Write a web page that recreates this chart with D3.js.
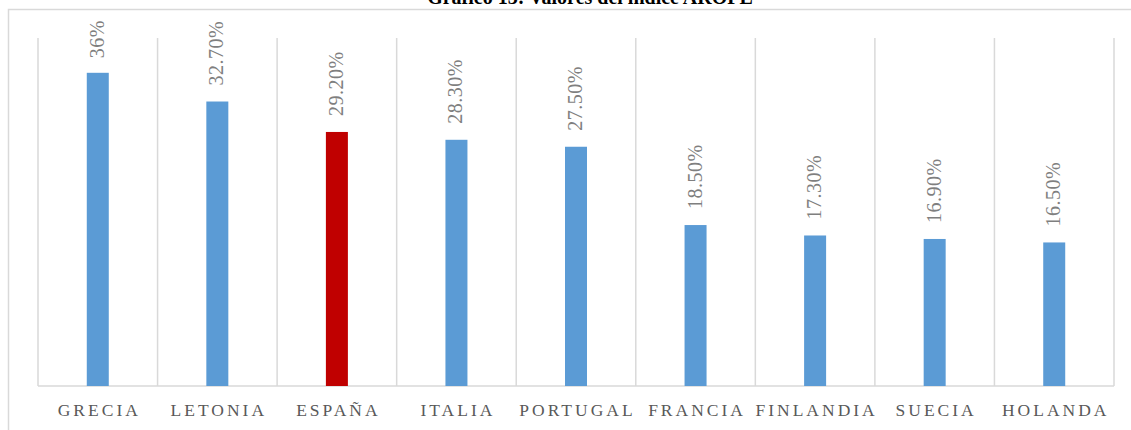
<!DOCTYPE html>
<html>
    <head>
        <meta charset="utf-8">
        <title>AROPE</title>
        <style>
body {
    margin: 0;
    background-color: white;
    font-family: 'Liberation Serif', 'Times New Roman', serif;
}

svg {
    display: block;
}

.grid line {
    stroke: #d9d9d9;
    stroke-width: 1.5;
}

.value-label {
    font-size: 20px;
    letter-spacing: 0.5px;
    fill: #7f7f7f;
}

.cat-label {
    font-size: 17.5px;
    fill: #595959;
    letter-spacing: 3px;
    text-anchor: middle;
}

.title {
    font-size: 20px;
    font-weight: bold;
    fill: #000;
    text-anchor: middle;
}
        </style>
        <script src="https://cdn.jsdelivr.net/npm/d3@7"></script>
    </head>
    <body>
        <script>
var width = 1131,
    height = 430;

var categories = ["GRECIA", "LETONIA", "ESPAÑA", "ITALIA", "PORTUGAL", "FRANCIA", "FINLANDIA", "SUECIA", "HOLANDA"];
var values = [36, 32.7, 29.2, 28.3, 27.5, 18.5, 17.3, 16.9, 16.5];
var labels = ["36%", "32.70%", "29.20%", "28.30%", "27.50%", "18.50%", "17.30%", "16.90%", "16.50%"];
var highlight = "ESPAÑA";

var margin = {top: 38, left: 38, right: 17, bottom: 44};

var svg = d3.select("body")
    .append("svg")
    .attr("width", width)
    .attr("height", height);

// outer chart border (only top and left visible)
svg.append("path")
    .attr("d", "M 8.5 " + height + " L 8.5 9.5 L " + width + " 9.5")
    .attr("fill", "none")
    .attr("stroke", "#d9d9d9")
    .attr("stroke-width", 1.5);

// title sits above the visible area, only its lower part shows
svg.append("text")
    .attr("class", "title")
    .attr("x", 590)
    .attr("y", 4)
    .text("Gráfico 13: Valores del índice AROPE");

var x = d3.scaleBand()
    .domain(categories)
    .range([margin.left, width - margin.right])
    .paddingInner(0)
    .paddingOuter(0);

var y = d3.scaleLinear()
    .domain([0, 40])
    .range([height - margin.bottom, margin.top]);

// vertical gridlines at category boundaries
var bounds = categories.map(function (c) { return x(c); });
bounds.push(x(categories[categories.length - 1]) + x.bandwidth());

svg.append("g")
    .attr("class", "grid")
    .selectAll("line")
    .data(bounds)
    .enter()
    .append("line")
    .attr("x1", function (d) { return d; })
    .attr("x2", function (d) { return d; })
    .attr("y1", y(40))
    .attr("y2", y(0));

svg.append("g")
    .attr("class", "grid")
    .append("line")
    .attr("x1", x.range()[0])
    .attr("x2", x.range()[1])
    .attr("y1", y(0))
    .attr("y2", y(0));

var barWidth = 22;

svg.selectAll("rect.bar")
    .data(values)
    .enter()
    .append("rect")
    .attr("class", "bar")
    .attr("x", function (d, i) { return x(categories[i]) + x.bandwidth() / 2 - barWidth / 2; })
    .attr("y", function (d) { return y(d); })
    .attr("width", barWidth)
    .attr("height", function (d) { return y(0) - y(d); })
    .attr("fill", function (d, i) { return categories[i] === highlight ? "#c00000" : "#5b9bd5"; });

// rotated value labels, kept below the top of the chart like excel does
var valueLabels = svg.selectAll("text.value-label")
    .data(values)
    .enter()
    .append("text")
    .attr("class", "value-label")
    .text(function (d, i) { return labels[i]; });

valueLabels.each(function (d, i) {
    var len = this.getComputedTextLength();
    var start = Math.max(20 + len, y(d) - 16);
    var cx = x(categories[i]) + x.bandwidth() / 2 + 6;
    d3.select(this).attr("transform", "translate(" + cx + "," + start + ") rotate(-90)");
});

svg.selectAll("text.cat-label")
    .data(categories)
    .enter()
    .append("text")
    .attr("class", "cat-label")
    .attr("x", function (d) { return x(d) + x.bandwidth() / 2 + 1.5; })
    .attr("y", 416)
    .text(function (d) { return d; });
        </script>
    </body>
</html>
